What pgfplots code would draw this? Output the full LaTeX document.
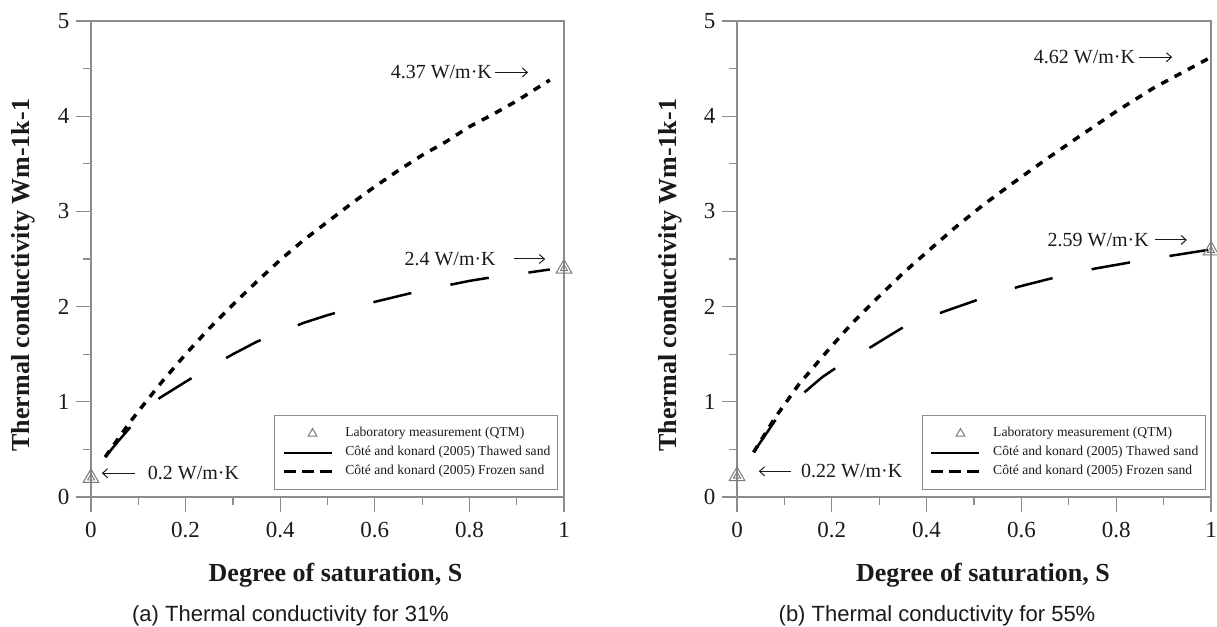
\documentclass[border=0pt]{standalone}
\usepackage{fontspec}
\setmainfont{Liberation Serif}
\newfontfamily\capfont{Liberation Sans}
\usepackage{pgfplots}
\pgfplotsset{compat=1.18}
\usetikzlibrary{arrows.meta}
\definecolor{axgray}{HTML}{8C8C8C}
\definecolor{mkgray}{HTML}{7A7A7A}
\definecolor{txt}{HTML}{1A1A1A}
\tikzset{
  ann/.style={font=\fontsize{20}{22}\selectfont, text=txt, inner sep=0pt},
  arr/.style={-{Straight Barb[length=5pt,width=9pt]}, line width=1pt, txt},
}
\pgfplotsset{
  panel/.style={
    scale only axis, height=476pt,
    xmin=0, xmax=1, ymin=0, ymax=5,
    xtick={0,0.2,0.4,0.6,0.8,1}, xticklabels={0,0.2,0.4,0.6,0.8,1},
    ytick={0,1,2,3,4,5}, yticklabels={0,1,2,3,4,5},
    minor xtick={0.1,0.3,0.5,0.7,0.9}, minor ytick={0.5,1.5,2.5,3.5,4.5},
    tick align=outside, xtick pos=bottom, ytick pos=left,
    major tick length=15pt, minor tick length=8pt,
    axis line style={axgray, line width=1.2pt},
    tick style={axgray, line width=1.2pt},
    tick label style={font=\fontsize{23}{26}\selectfont, text=txt},
    xticklabel style={yshift=-7pt},
    yticklabel style={xshift=-3pt},
    clip=false,
    xlabel={Degree of saturation, S},
    ylabel={Thermal conductivity Wm-1k-1},
    label style={font=\bfseries\fontsize{26}{30}\selectfont, text=txt},
    legend style={
      anchor=south east, draw=axgray, line width=1pt, fill=white,
      font=\fontsize{13.6}{16}\selectfont, text=txt,
      inner xsep=7pt, inner ysep=11pt, row sep=5pt, column sep=12pt,
      nodes={inner sep=0pt, text height=10pt, text depth=4pt},
      cells={anchor=west},
    },
    legend cell align=left,
  },
  frozen/.style={black, line width=3.5pt, dash pattern=on 7.5pt off 7.5pt},
  thawed/.style={black, line width=2.5pt, dash pattern=on 39pt off 40pt},
  labout/.style={only marks, mark=triangle, mark size=9pt, mkgray, mark options={line width=1pt, solid}, forget plot},
  labin/.style={only marks, mark=triangle, mark size=4pt, mkgray, mark options={line width=0.9pt, solid}, forget plot},
}
\newcommand{\legendentries}{%
  \addlegendimage{legend image code/.code={\path[draw=none,fill=none] (0pt,-1pt) rectangle (48pt,1pt); \node[draw=none, inner sep=0pt, mkgray] at (24pt,0pt) {\tikz{\draw[mkgray, line width=1pt] (0pt,0pt) -- (8.6pt,0pt) -- (4.3pt,7.4pt) -- cycle;}};}}
  \addlegendentry{Laboratory measurement (QTM)}
  \addlegendimage{legend image code/.code={\draw[black, line width=2pt] (0pt,0pt) -- (48pt,0pt);}}
  \addlegendentry{Côté and konard (2005) Thawed sand}
  \addlegendimage{legend image code/.code={\draw[black, line width=3.5pt, dash pattern=on 12pt off 6pt] (0pt,0pt) -- (48pt,0pt);}}
  \addlegendentry{Côté and konard (2005) Frozen sand}
}
\begin{document}
\begin{tikzpicture}
\path[use as bounding box] (0pt,0pt) rectangle (1217pt,626pt);
% ---------------- panel (a)
\begin{axis}[panel, width=473pt, at={(91pt,129pt)}, anchor=south west,
  xlabel style={at={(axis description cs:0.517,-0.1765)}, anchor=base},
  ylabel style={at={(axis description cs:-0.1438,0.466)}, anchor=center},
  legend style={at={(rel axis cs:0.987,0.0147)}}]
\legendentries
\addplot[frozen, forget plot] coordinates {(0.03,0.42)(0.05,0.56)(0.08,0.77)(0.1,0.90)(0.15,1.21)(0.2,1.50)(0.25,1.77)(0.3,2.02)(0.35,2.26)(0.4,2.49)(0.45,2.70)(0.5,2.89)(0.55,3.08)(0.6,3.26)(0.65,3.43)(0.7,3.59)(0.75,3.73)(0.8,3.89)(0.85,4.02)(0.9,4.16)(0.97,4.38)};
\addplot[thawed, forget plot] coordinates {(0.03,0.42)(0.06,0.6)(0.1,0.83)(0.145,1.04)(0.2,1.21)(0.25,1.36)(0.3,1.50)(0.35,1.63)(0.4,1.73)(0.45,1.83)(0.5,1.91)(0.55,1.98)(0.6,2.05)(0.65,2.11)(0.7,2.17)(0.75,2.22)(0.8,2.27)(0.85,2.31)(0.9,2.34)(0.97,2.39)};
\addplot[labout] coordinates {(0,0.2)(1,2.4)};
\addplot[labin] coordinates {(0,0.2)(1,2.4)};
\node[ann, anchor=east] at (axis cs:0.848,4.46) {4.37 W/m·K};
\draw[arr] (axis cs:0.855,4.46) -- (axis cs:0.924,4.46);
\node[ann, anchor=east] at (axis cs:0.856,2.5) {2.4 W/m·K};
\draw[arr] (axis cs:0.894,2.5) -- (axis cs:0.96,2.5);
\node[ann, anchor=west] at (axis cs:0.12,0.25) {0.2 W/m·K};
\draw[arr] (axis cs:0.093,0.25) -- (axis cs:0.023,0.25);
\end{axis}
% ---------------- panel (b)
\begin{axis}[panel, width=474pt, at={(737pt,129pt)}, anchor=south west,
  xlabel style={at={(axis description cs:0.519,-0.1765)}, anchor=base},
  ylabel style={at={(axis description cs:-0.141,0.466)}, anchor=center},
  legend style={at={(rel axis cs:0.989,0.0147)}}]
\legendentries
\addplot[frozen, forget plot] coordinates {(0.035,0.47)(0.08,0.83)(0.13,1.18)(0.19,1.53)(0.24,1.81)(0.29,2.06)(0.35,2.35)(0.4,2.57)(0.46,2.83)(0.52,3.07)(0.58,3.29)(0.65,3.54)(0.72,3.78)(0.8,4.05)(0.88,4.30)(0.94,4.46)(1.0,4.62)};
\addplot[thawed, forget plot] coordinates {(0.035,0.47)(0.08,0.80)(0.115,0.98)(0.147,1.12)(0.18,1.26)(0.21,1.36)(0.25,1.48)(0.284,1.58)(0.32,1.69)(0.353,1.79)(0.4,1.88)(0.438,1.95)(0.507,2.07)(0.55,2.14)(0.595,2.21)(0.674,2.31)(0.756,2.40)(0.836,2.47)(0.923,2.54)(1.0,2.60)};
\addplot[labout] coordinates {(0,0.22)(1,2.59)};
\addplot[labin] coordinates {(0,0.22)(1,2.59)};
\node[ann, anchor=east] at (axis cs:0.840,4.62) {4.62 W/m·K};
\draw[arr] (axis cs:0.848,4.62) -- (axis cs:0.918,4.62);
\node[ann, anchor=east] at (axis cs:0.869,2.70) {2.59 W/m·K};
\draw[arr] (axis cs:0.882,2.70) -- (axis cs:0.949,2.70);
\node[ann, anchor=west] at (axis cs:0.135,0.27) {0.22 W/m·K};
\draw[arr] (axis cs:0.114,0.27) -- (axis cs:0.046,0.27);
\end{axis}
% ---------------- captions
\node[anchor=base, font=\capfont\fontsize{22}{24}\selectfont, text=txt] at (290.5pt,5pt) {(a) Thermal conductivity for 31\%};
\node[anchor=base, font=\capfont\fontsize{22}{24}\selectfont, text=txt] at (937pt,5pt) {(b) Thermal conductivity for 55\%};
\end{tikzpicture}
\end{document}
